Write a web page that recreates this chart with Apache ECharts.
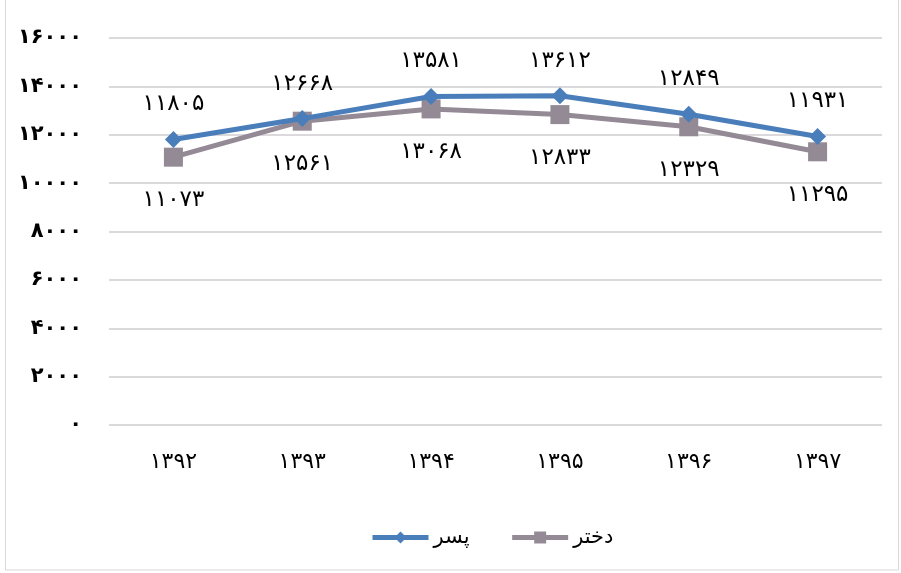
<!DOCTYPE html>
<html><head><meta charset="utf-8">
<script src="https://cdn.jsdelivr.net/npm/echarts@6/dist/echarts.min.js"></script>
<style>html,body{margin:0;padding:0;background:#fff}#c{width:901px;height:573px}</style>
</head><body><div id="c"></div>
<script>
const categories = ['1392','1393','1394','1395','1396','1397'];
const boys = [11805, 12668, 13581, 13612, 12849, 11931];
const girls = [11073, 12561, 13068, 12833, 12329, 11295];
const seriesNames = ['پسر', 'دختر'];
const yTicks = [0, 2000, 4000, 6000, 8000, 10000, 12000, 14000, 16000];

function fa(v){ return String(v).replace(/[0-9]/g, d => String.fromCharCode(0x06F0 + (+d))); }

const chart = echarts.init(document.getElementById('c'));
const font = 'DejaVu Sans';
chart.setOption({
  animation: false,
  textStyle: { fontFamily: font },
  graphic: [{ type: 'rect', shape: { x: 5.5, y: -2, width: 893, height: 572 }, style: { fill: 'none', stroke: '#d9d9d9', lineWidth: 1 }, silent: true }],
  grid: { left: 109, right: 19, top: 38, bottom: 148 },
  legend: {
    bottom: 20, left: 365, itemWidth: 56, itemHeight: 15, itemGap: 40,
    lineStyle: { width: 5 },
    textStyle: { fontFamily: font, fontSize: 21, color: '#000' },
    data: seriesNames
  },
  xAxis: {
    type: 'category', data: categories, boundaryGap: true,
    axisLine: { show: false }, axisTick: { show: false },
    axisLabel: { formatter: v => fa(v), fontSize: 22, color: '#000', margin: 26, fontFamily: font }
  },
  yAxis: {
    type: 'value', min: 0, max: 16000, interval: 2000,
    axisLine: { show: false }, axisTick: { show: false },
    splitLine: { lineStyle: { color: '#d0ccd0', width: 1.5 } },
    axisLabel: { formatter: v => fa(v), fontSize: 21, fontWeight: 'bold', color: '#000', margin: 27, fontFamily: font }
  },
  series: [
    {
      name: seriesNames[0], type: 'line', data: boys,
      symbol: 'diamond', symbolSize: 17,
      lineStyle: { color: '#4a7ebb', width: 5 }, itemStyle: { color: '#4a7ebb' },
      label: { show: true, position: 'top', distance: 15, formatter: p => fa(p.value), fontSize: 23, color: '#000', fontFamily: font },
      z: 3
    },
    {
      name: seriesNames[1], type: 'line', data: girls,
      symbol: 'rect', symbolSize: 19,
      lineStyle: { color: '#948a96', width: 5 }, itemStyle: { color: '#948a96' },
      label: { show: true, position: 'bottom', distance: 22, formatter: p => fa(p.value), fontSize: 23, color: '#000', fontFamily: font },
      z: 2
    }
  ]
});
</script></body></html>
